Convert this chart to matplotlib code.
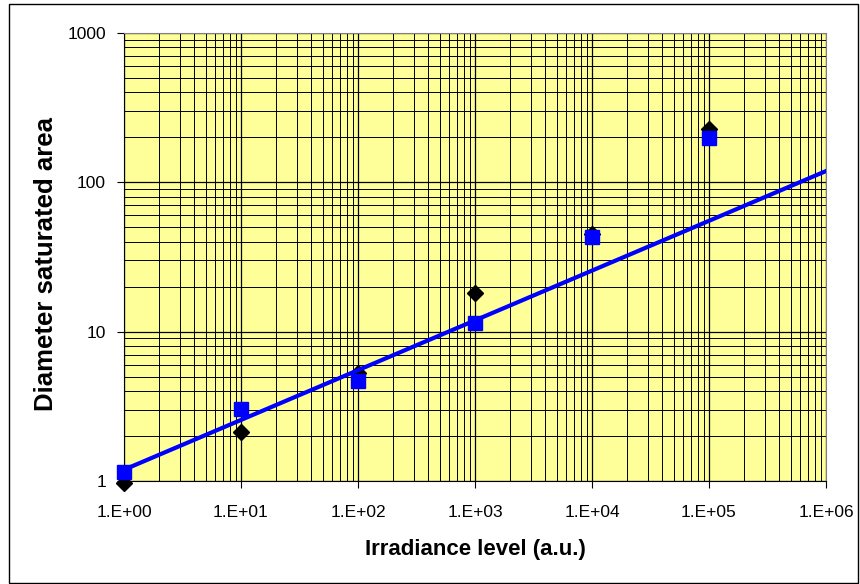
import matplotlib
matplotlib.use('Agg')
import matplotlib.pyplot as plt
from matplotlib.patches import Rectangle
import matplotlib.ticker as mtick

# irradiance levels (a.u.)
irradiance = [1, 10, 100, 1000, 10000, 100000]
# measured diameters (black diamonds)
diam_measured = [0.97, 2.13, 5.3, 18.1, 45.0, 228.0]
# model diameters (blue squares)
diam_model = [1.15, 3.05, 4.65, 11.5, 43.0, 198.0]
# trend line end points
trend_x = [1, 1000000]
trend_y = [1.19, 119.0]

x_ticks = [1, 10, 100, 1000, 10000, 100000, 1000000]
x_labels = ['1.E+00', '1.E+01', '1.E+02', '1.E+03', '1.E+04', '1.E+05', '1.E+06']
y_ticks = [1, 10, 100, 1000]
y_labels = ['1', '10', '100', '1000']

plt.rcParams['font.family'] = ['Liberation Sans', 'DejaVu Sans']
narrow = ['Liberation Sans Narrow', 'Liberation Sans', 'DejaVu Sans']

fig = plt.figure(figsize=(8.6, 5.84), dpi=100)
ax = fig.add_axes([124 / 860, 1 - 481 / 584, 702 / 860, 448 / 584])
ax.set_facecolor('#ffff99')

ax.set_xscale('log')
ax.set_yscale('log')
ax.set_xlim(1, 1e6)
ax.set_ylim(1, 1000)

ax.grid(True, which='major', color='black', linewidth=0.9)
ax.grid(True, which='minor', color='black', linewidth=0.7)
ax.xaxis.set_minor_locator(mtick.LogLocator(base=10, subs=range(2, 10), numticks=20))
ax.yaxis.set_minor_locator(mtick.LogLocator(base=10, subs=range(2, 10), numticks=20))
ax.tick_params(which='minor', length=0)
ax.tick_params(which='major', length=5, width=0.8)
ax.tick_params(axis='y', labelsize=12.5, pad=8)
ax.tick_params(axis='x', pad=12)
ax.set_axisbelow(True)

ax.set_xticks(x_ticks)
ax.set_xticklabels(x_labels, family=narrow, fontsize=12.5)
ax.set_yticks(y_ticks)
ax.set_yticklabels(y_labels)

for s in ax.spines.values():
    s.set_color('#808080')
ax.spines['left'].set_color('black')
ax.spines['bottom'].set_color('black')

ax.plot(irradiance, diam_measured, linestyle='none', marker='D', markersize=8,
        color='black', clip_on=False, zorder=3)
ax.plot(trend_x, trend_y, color='#0000ff', linewidth=3, zorder=4)
ax.plot(irradiance, diam_model, linestyle='none', marker='s', markersize=10,
        color='#0000ff', clip_on=False, zorder=5)

ax.set_xlabel('Irradiance level (a.u.)', fontsize=16, fontweight='bold', family=narrow)
ax.xaxis.label.set_va('center')
ax.xaxis.set_label_coords(0.5, (481 - 550) / 448)
ax.set_ylabel('Diameter saturated area', fontsize=18.5, fontweight='bold')
ax.yaxis.label.set_va('center')
ax.yaxis.set_label_coords((46 - 124) / 702, (481 - 264) / 448)

# outer chart border
fig.patches.append(Rectangle((9 / 860, 1 / 584), 849 / 860, 579 / 584,
                             transform=fig.transFigure, fill=False,
                             edgecolor='black', linewidth=1))

fig.savefig('out.png', dpi=100)
